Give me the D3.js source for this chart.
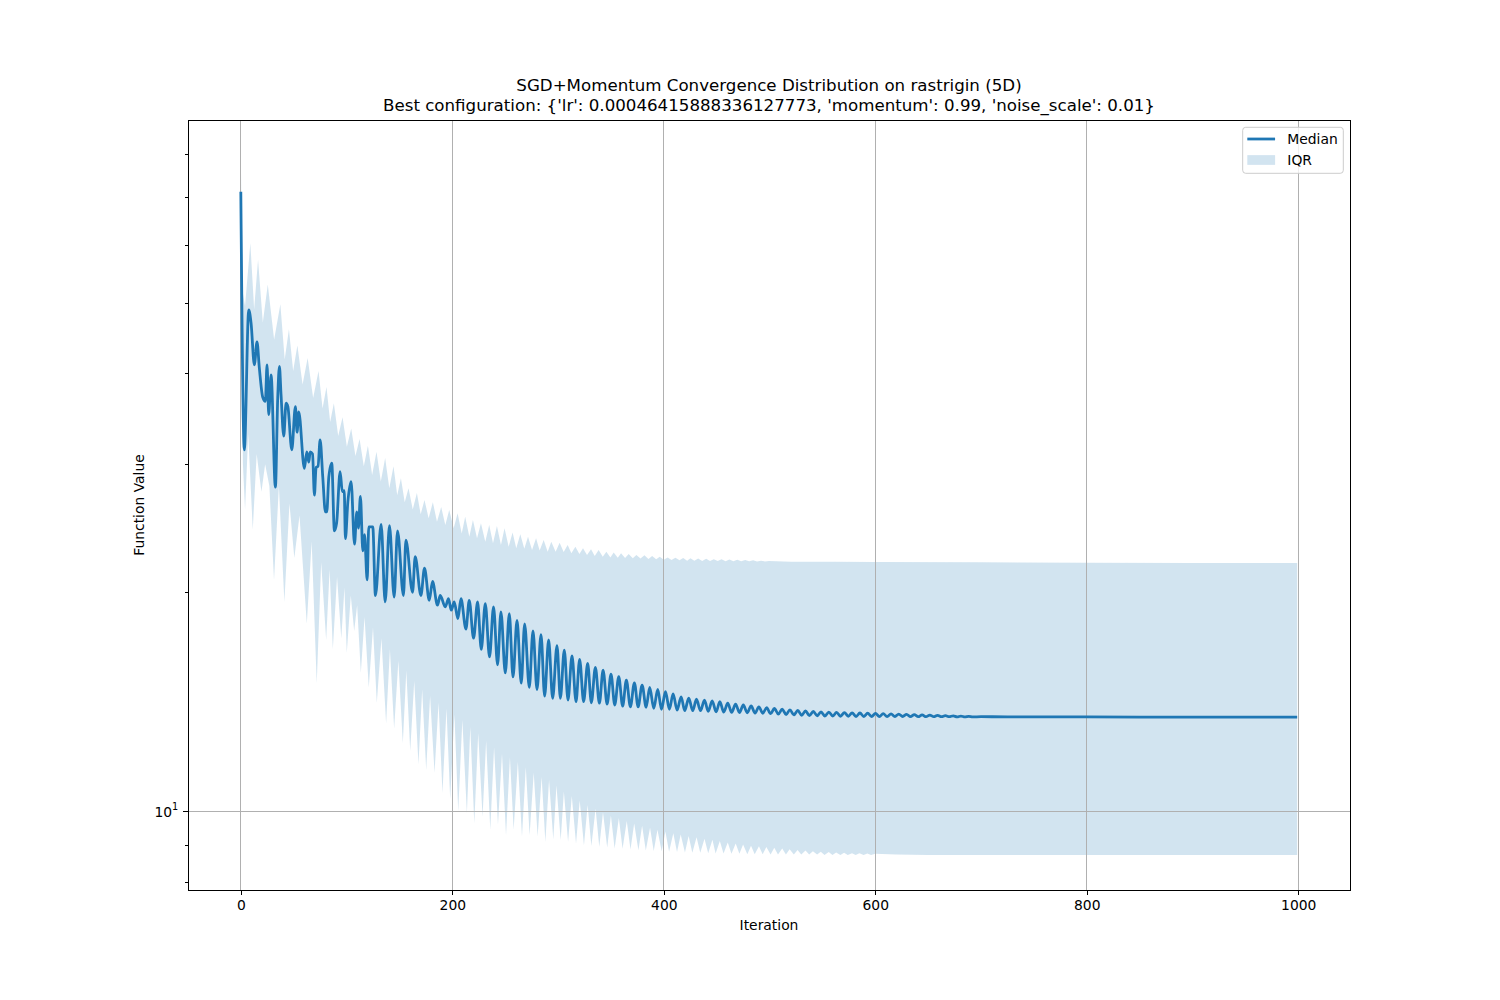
<!DOCTYPE html>
<html>
<head>
<meta charset="utf-8">
<script src="https://cdn.jsdelivr.net/npm/d3@7"></script>
<style>
    body { margin: 0; background: #ffffff; }
    svg { font-family: "DejaVu Sans", sans-serif; }
</style>
</head>
<body>
<svg id="chart" width="1500" height="1000"></svg>
<script>
// ---- data: [iteration, function value] ----
var medianPoints = [
    [0,71.1],[3.3,31.4],[7.5,48.9],[9.7,46.9],[12.8,41.1],[15.3,44.2],[17.5,40.7],[20.7,37.1],[23.2,36.6],[24.8,41.1],
    [26.4,35.1],[28.6,39.8],[32.7,27.9],[34.9,37.0],[36.5,40.9],[38,37.5],[40.6,32.8],[42.8,36.4],[44.5,36.0],[48.2,31.4],
    [51.6,36.0],[53.2,33.2],[54.8,35.4],[60.1,29.6],[62.4,31.2],[64.3,30.2],[65.6,31.2],[67.8,31.0],[69.6,27.2],[71.2,29.7],
    [73,29.8],[75,32.4],[77.5,28.8],[80,25.8],[81.3,25.8],[83.2,28.8],[86,30.1],[88.5,24.3],[90.6,24.9],[93.9,29.3],
    [96,27.5],[97.8,27.6],[98.9,23.7],[101.2,26.6],[104.3,28.4],[107.5,23.3],[109.7,25.8],[111.2,24.5],[113.1,27.1],[115.4,22.8],
    [117,24.0],[119.5,20.8],[121,24.6],[124.8,24.6],[127.3,19.8],
    [132.7,24.8],[136.5,19.4],[140.6,24.7],[145,19.7],[148.2,24.3],[153.8,19.8],[156.1,23.6],[162.4,20.0],[164.9,22.4],[170.3,19.8],
    [173.7,21.6],[178.2,19.5],[181.3,20.7],[186,19.2],[188.6,19.8],[193.3,19.1],[196.4,19.6],[199,18.9],[201.8,19.4],[205.3,18.4],
    [208.2,19.6],[212.9,17.8],[216,19.5],[220.1,17.3],[223.9,19.4],[227.4,16.7],[231.2,19.3],[235.2,16.3],[239,19.1],[242.8,15.9],
    [246,18.8],[250.1,15.5],[253.9,18.7],[257.4,15.3],[261.2,18.3],[265.2,15.0],[268.4,18.1],[272.8,14.8],[276.3,17.7],[280.1,14.7],
    [283.9,17.5],[287.3,14.4],[291.1,17.2],[294.9,14.3],[299,16.9],[302.2,14.3],[305.9,16.66],[309.4,14.22],[313.2,16.35],[317,14.15],
    [320.4,16.18],[324.2,14.15],[328,15.97],[331.5,14.10],[335.3,15.77],[339.1,14.08],[342.6,15.64],[346.4,14.04],[350.1,15.44],[353.6,14.00],
    [357.4,15.31],[361.1,13.95],[364.6,15.15],[368.4,13.92],[372.2,15.02],[375.7,13.92],[379.5,14.91],[383.3,13.90],[386.7,14.80],[390.5,13.85],
    [394.3,14.71],[397.8,13.81],[401.6,14.60],[405.3,13.81],[408.8,14.50],[412.6,13.78],[416.4,14.37],[419.8,13.75],[423.6,14.31],[427.4,13.75],
    [430.9,14.26],[434.7,13.75],[438.5,14.22],[442,13.72],[445.8,14.18],[449.5,13.70],[453,14.15],[456.7,13.69],[460.5,14.08],[464.2,13.68],
    [467.9,14.04],[471.6,13.67],[475.2,14.00],[478.9,13.66],[482.6,13.96],[486.3,13.65],[489.9,13.92],[493.6,13.64],[497.3,13.88],[501,13.62],
    [504.6,13.85],[508.3,13.60],[512,13.82],[515.7,13.58],[519.3,13.79],[523,13.57],[526.7,13.76],[530.4,13.55],[534,13.74],[537.7,13.54],
    [541.4,13.72],[545.1,13.53],[548.7,13.70],[552.4,13.52],[556.1,13.69],[559.8,13.52],[563.4,13.68],[567.1,13.51],[570.8,13.67],[574.5,13.51],
    [578.1,13.66],[581.8,13.50],[585.5,13.65],[589.2,13.50],[592.8,13.64],[596.5,13.50],[600.2,13.63],[603.9,13.50],[607.5,13.62],[611.2,13.50],
    [614.9,13.61],[618.6,13.50],[622.2,13.60],[625.9,13.50],[629.6,13.59],[633.3,13.49],[636.9,13.58],[640.6,13.49],[644.3,13.57],[648,13.49],
    [651.6,13.56],[655.3,13.49],[658.9,13.55],[662.6,13.49],[666.3,13.54],[670,13.49],[673.7,13.53],[677.4,13.48],[681,13.52],[684.7,13.48],
    [688.4,13.51],[692.1,13.48],[700,13.49],[750,13.48],[800,13.48],[900,13.47],[999,13.47]
];

// upper quartile (75th percentile)
var upperPoints = [
    [0,79.5],[1.5,52],[4,49.5],[9,60.4],[12.6,49],[16.3,57.3],[20.8,47],[25.5,53],[31.5,44.5],[37.4,49.8],
    [41.5,41.8],[45.5,46],[49.5,40.3],[53.5,43.7],[58.4,38.6],[63.2,42],[68.4,37],[73.5,40.3],[77.3,35.8],[81,38.3],
    [84.5,34.3],[88,36.4],[92.1,32.8],[96.2,34.8],[100.3,31.7],[104.4,33.6],[108.4,30.8],[112.3,32.5],[116.3,29.8],[120.2,31.8],
    [124.2,29],[128.3,31.2],[132.4,28.4],[136.5,30.6],[140.4,27.8],[144.4,29.8],[147.9,27.2],[151.4,28.7],[155,26.6],[158.6,27.8],
    [162.6,26],[166.5,27.4],[170.1,25.6],[173.7,26.8],[177.6,25.28],[181.6,26.6],[185.5,25.01],[189.5,26.2],[193.4,24.75],[197.1,25.96],
    [201.3,24.49],[205,25.68],[208.9,24.1],[212.2,25.41],[216.1,23.85],[219.5,25.14],[223.4,23.73],[227.1,24.88],[231.2,23.48],[234.9,24.75],
    [238.5,23.36],[242.2,24.67],[246,23.23],[249.4,24.49],[253.3,23.11],[257,24.18],[260.5,22.99],[264.3,24.03],[268.1,22.95],[271.6,23.85],
    [275.4,22.87],[279.2,23.73],[282.6,22.83],[286.4,23.6],[290.2,22.75],[293.6,23.48],[297.7,22.75],[301.5,23.4],[305.3,22.72],[309.1,23.23],
    [312.6,22.63],[316.4,23.11],[320.2,22.58],[323.6,22.99],[327.4,22.51],[331.2,22.92],[334.7,22.43],[338.4,22.87],[342.3,22.39],[345.7,22.75],
    [349.5,22.34],[352.6,22.69],[356.5,22.32],[359.6,22.63],[363.4,22.3],[366.8,22.58],[370.7,22.28],[374.1,22.51],[378,22.26],[381.7,22.49],
    [385.5,22.23],[389,22.43],[392.8,22.21],[396.2,22.39],[400,22.17],[403.7,22.34],[407.3,22.15],[411,22.32],[414.9,22.13],[418.3,22.30],
    [422.1,22.11],[425.2,22.28],[428.9,22.10],[432.5,22.26],[436.3,22.09],[440.1,22.24],[443.7,22.08],[447.3,22.21],[451,22.08],[454.6,22.2],
    [458.4,22.07],[462.1,22.19],[465.8,22.07],[469.5,22.17],[473.2,22.06],[477,22.15],[480.7,22.06],[484.5,22.13],[488.2,22.05],[492,22.11],
    [495.7,22.05],[499.5,22.09],[520,22.04],[560,22.03],[600,22.02],[700,21.99],[800,21.97],[900,21.95],[999,21.94]
];

// lower quartile (25th percentile)
var lowerPoints = [
    [0,64],[2,30],[4,26],[7,33],[11.3,24.4],[15,31],[19.5,27.5],[23,30],[27,28],[31.4,20.8],
    [36,28],[41.2,19.4],[46,26.5],[50.6,22.3],[55.5,25.5],[62.4,18.1],[67,23.5],[71.8,15],[76,22],[80.7,17.2],
    [84,21.5],[87,16.7],[91,21],[95,17.3],[98,20.3],[100.2,16.5],[104,19.8],[107.2,17.7],[110,19.2],[113.5,15.5],
    [117,18.5],[121,14.8],[125,17.9],[128.6,14.1],[133,17.3],[137.4,13.2],[141,16.7],[145,13],[149,16.1],[153.2,12.4],
    [156.5,15.6],[160.2,12.1],[164,15.1],[168,11.6],[171.5,14.7],[175.3,11.4],[179,14.4],[183.2,11.3],[187,14.1],[190.7,10.6],
    [194.5,13.85],[198,10.4],[202,13.6],[205.6,10],[209.5,13.35],[213.8,9.94],[217,13.06],[220.8,9.63],[224.5,12.8],[228.6,9.83],
    [232,12.5],[235.9,9.43],[239.5,12.25],[243.2,9.58],[247,12],[250.8,9.28],[254.5,11.87],[258,9.43],[262,11.7],[265.9,9.23],
    [269.5,11.5],[273.1,9.28],[277,11.3],[280.7,9.23],[284.5,11.15],[288,9.08],[291.5,11.04],[295.5,9.15],[298.5,10.85],[302.5,9.13],
    [305.5,10.65],[309.5,9.08],[313,10.5],[317,9.03],[320.5,10.35],[324.5,8.98],[328,10.2],[331.5,8.96],[335.5,10.08],[339,8.94],
    [342.5,9.97],[346.5,8.92],[350,9.87],[353.5,8.89],[357.5,9.79],[361,8.88],[365,9.70],[368.5,8.86],[372,9.62],[376,8.84],
    [379.5,9.55],[383,8.83],[387,9.49],[390.5,8.82],[394,9.43],[398,8.81],[401.5,9.38],[405,8.80],[409,9.33],[412.5,8.79],
    [416,9.29],[420,8.78],[423.5,9.25],[427,8.77],[431,9.21],[434.5,8.77],[438.5,9.17],[442,8.76],[446,9.14],[449,8.75],
    [453,9.10],[456.5,8.75],[460.5,9.06],[464,8.74],[468,9.03],[471.5,8.74],[475,9.0],[479,8.73],[482.5,8.97],[486,8.73],
    [490,8.95],[493.5,8.73],[497,8.93],[501,8.72],[504.5,8.91],[508,8.72],[512,8.89],[515.5,8.72],[519,8.87],[523,8.72],
    [526.5,8.85],[530,8.72],[534,8.83],[537.5,8.72],[541,8.81],[545,8.72],[548.5,8.80],[552,8.71],[556,8.79],[559.5,8.71],
    [563,8.78],[567,8.71],[570.5,8.77],[574,8.71],[578,8.76],[581.5,8.71],[585,8.76],[589,8.71],[592.5,8.75],[596,8.71],
    [600,8.74],[620,8.72],[650,8.71],[700,8.71],[800,8.71],[900,8.71],[999,8.71]
];

var xTicks = [0, 200, 400, 600, 800, 1000];
var yMajorTicks = [10];
var yMinorTicks = [8, 9, 20, 30, 40, 50, 60, 70, 80];

var titleLines = [
    "SGD+Momentum Convergence Distribution on rastrigin (5D)",
    "Best configuration: {'lr': 0.00046415888336127773, 'momentum': 0.99, 'noise_scale': 0.01}"
];

// ---- layout (matplotlib 15x10 in @ 100 dpi) ----
var plot = {left: 188, right: 1350, top: 120, bottom: 890};
var blue = "#1f77b4";
var pt = 100 / 72;

var svg = d3.select("#chart");

var x = d3.scaleLinear().domain([-49.95, 1048.95]).range([plot.left, plot.right]);
var y = d3.scaleLog().domain([7.795, 89.2]).range([plot.bottom, plot.top]);

var line = d3.line()
    .x(function(d) { return x(d[0]); })
    .y(function(d) { return y(d[1]); });

// IQR band: upper edge forwards, lower edge backwards
var bandPts = upperPoints.concat(lowerPoints.slice().reverse());
svg.append("path")
    .attr("d", line(bandPts) + "Z")
    .attr("fill", blue)
    .attr("fill-opacity", 0.2)
    .attr("stroke", "none");

// grid sits above the band but below the median line
var grid = svg.append("g")
    .attr("stroke", "#b0b0b0")
    .attr("stroke-width", 1)
    .attr("shape-rendering", "crispEdges");

grid.selectAll("line.vx")
    .data(xTicks)
    .enter().append("line")
    .attr("x1", function(d) { return x(d); })
    .attr("x2", function(d) { return x(d); })
    .attr("y1", plot.top)
    .attr("y2", plot.bottom);

grid.selectAll("line.hy")
    .data(yMajorTicks)
    .enter().append("line")
    .attr("x1", plot.left)
    .attr("x2", plot.right)
    .attr("y1", function(d) { return y(d); })
    .attr("y2", function(d) { return y(d); });

// median
svg.append("path")
    .datum(medianPoints)
    .attr("d", line.curve(d3.curveMonotoneX))
    .attr("fill", "none")
    .attr("stroke", blue)
    .attr("stroke-width", 2 * pt)
    .attr("stroke-linejoin", "round");

// axes
var tickFont = 10 * pt;

function styleAxis(g) {
    g.select(".domain").remove();
    g.selectAll(".tick line")
        .attr("stroke", "#000")
        .attr("stroke-width", 1)
        .attr("shape-rendering", "crispEdges");
    g.selectAll(".tick text")
        .attr("fill", "#000")
        .style("font-size", tickFont + "px")
        .style("font-family", "DejaVu Sans");
}

svg.append("g")
    .attr("transform", "translate(0," + plot.bottom + ")")
    .call(d3.axisBottom(x).tickValues(xTicks).tickSize(3.5 * pt).tickPadding(3.5 * pt).tickFormat(d3.format("d")))
    .call(styleAxis);

svg.append("g")
    .attr("transform", "translate(" + plot.left + ",0)")
    .call(d3.axisLeft(y).tickValues(yMinorTicks).tickSize(2 * pt).tickFormat(""))
    .call(styleAxis);

var yMajor = svg.append("g")
    .attr("transform", "translate(" + plot.left + ",0)")
    .call(d3.axisLeft(y).tickValues(yMajorTicks).tickSize(3.5 * pt).tickFormat(""))
    .call(styleAxis);

// 10^1 style labels
yMajor.selectAll(".tick").each(function(d) {
    var t = d3.select(this).select("text")
        .attr("x", -7 * pt)
        .attr("dy", "0.34em")
        .attr("text-anchor", "end");
    var exp = Math.round(Math.log10(d));
    t.append("tspan").text("10");
    t.append("tspan")
        .text(exp)
        .style("font-size", (tickFont * 0.7) + "px")
        .attr("dy", -6.3);
});

// axis labels
svg.append("text")
    .attr("x", (plot.left + plot.right) / 2)
    .attr("y", 930)
    .attr("text-anchor", "middle")
    .style("font-size", tickFont + "px")
    .text("Iteration");

svg.append("text")
    .attr("transform", "translate(144," + ((plot.top + plot.bottom) / 2) + ") rotate(-90)")
    .attr("text-anchor", "middle")
    .style("font-size", tickFont + "px")
    .text("Function Value");

// title
svg.append("g").selectAll("text")
    .data(titleLines)
    .enter().append("text")
    .attr("x", (plot.left + plot.right) / 2)
    .attr("y", function(d, i) { return 91 + i * 20; })
    .attr("text-anchor", "middle")
    .style("font-size", (12 * pt) + "px")
    .text(function(d) { return d; });

// frame
svg.append("rect")
    .attr("x", plot.left)
    .attr("y", plot.top)
    .attr("width", plot.right - plot.left)
    .attr("height", plot.bottom - plot.top)
    .attr("fill", "none")
    .attr("stroke", "#000")
    .attr("stroke-width", 1)
    .attr("shape-rendering", "crispEdges");

// legend
var legend = svg.append("g").attr("transform", "translate(1242.7,127.3)");
legend.append("rect")
    .attr("width", 100.6)
    .attr("height", 46)
    .attr("rx", 3)
    .attr("fill", "#fff")
    .attr("fill-opacity", 0.8)
    .attr("stroke", "#cccccc")
    .attr("stroke-width", 1);

legend.append("line")
    .attr("x1", 4.6).attr("x2", 4.6 + 2 * tickFont)
    .attr("y1", 11.7).attr("y2", 11.7)
    .attr("stroke", blue)
    .attr("stroke-width", 2 * pt);

legend.append("rect")
    .attr("x", 4.6).attr("y", 32.7 - 0.35 * tickFont)
    .attr("width", 2 * tickFont).attr("height", 0.7 * tickFont)
    .attr("fill", blue)
    .attr("fill-opacity", 0.2);

legend.selectAll("text.lab")
    .data(["Median", "IQR"])
    .enter().append("text")
    .attr("x", 44.6)
    .attr("y", function(d, i) { return 11.7 + i * 21 + 5; })
    .style("font-size", tickFont + "px")
    .text(function(d) { return d; });
</script>
</body>
</html>
